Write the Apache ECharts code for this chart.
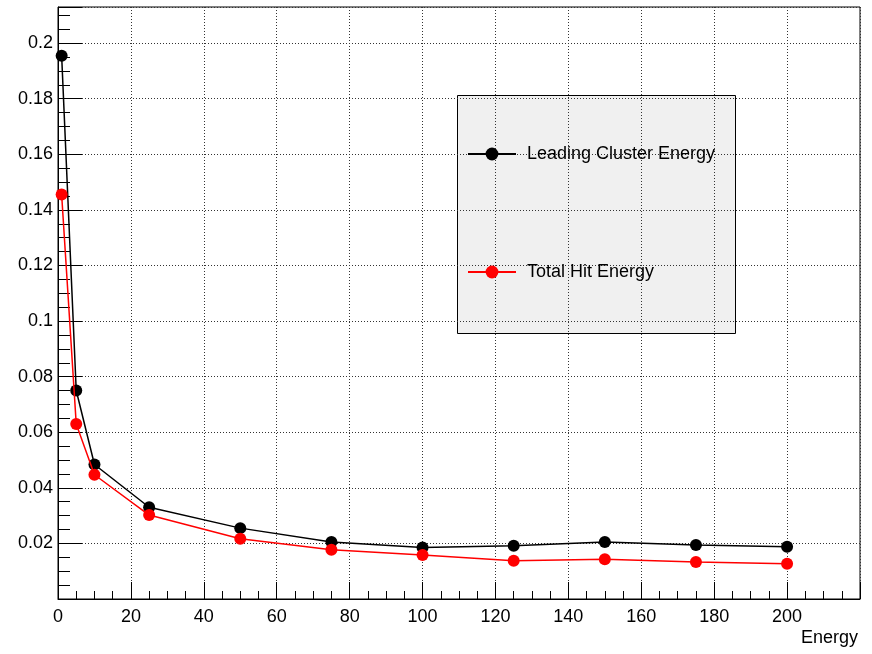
<!DOCTYPE html>
<html>
<head>
<meta charset="utf-8">
<style>
  html, body { margin: 0; padding: 0; background: #ffffff; }
  #chart { width: 872px; height: 654px; }
</style>
<script src="https://cdn.jsdelivr.net/npm/echarts@6/dist/echarts.min.js"></script>
</head>
<body>
<div id="chart"></div>
<script>
// Beam energies (x) and the resolution values for each method
const energies = [1, 5, 10, 25, 50, 75, 100, 125, 150, 175, 200];
const leadingCluster = [0.1955, 0.075, 0.0484, 0.033, 0.0255, 0.0205, 0.0185, 0.0192, 0.0205, 0.0194, 0.0188];
const totalHit = [0.1455, 0.063, 0.0447, 0.0302, 0.0217, 0.0177, 0.0158, 0.0138, 0.0143, 0.0133, 0.0127];
const seriesNames = ['Leading Cluster Energy', 'Total Hit Energy'];
const xTitle = 'Energy';

const pairs = (xs, ys) => xs.map((x, i) => [x, ys[i]]);
const FONT = '"Liberation Sans", Arial, Helvetica, sans-serif';

const chart = echarts.init(document.getElementById('chart'), null, { renderer: 'canvas' });

const dotted = { color: '#333', width: 1, type: [1, 2] };

chart.setOption({
  backgroundColor: '#ffffff',
  animation: false,
  grid: {
    left: 58, right: 12, top: 7, bottom: 55,
    show: true, borderColor: '#000', borderWidth: 1, backgroundColor: 'transparent'
  },
  xAxis: {
    type: 'value', min: 0, max: 220, interval: 20,
    axisLine: { show: true, onZero: false, lineStyle: { color: '#000', width: 1 } },
    axisTick: { show: true, inside: true, length: 17, lineStyle: { color: '#000' } },
    minorTick: { show: true, splitNumber: 4, length: 8, lineStyle: { color: '#000' } },
    splitLine: { show: true, lineStyle: dotted },
    axisLabel: { color: '#000', fontFamily: FONT, fontSize: 18, margin: 9, showMaxLabel: false }
  },
  yAxis: {
    type: 'value', min: 0, max: 0.213, interval: 0.02,
    axisLine: { show: true, onZero: false, lineStyle: { color: '#000', width: 1 } },
    axisTick: { show: true, inside: true, length: 24, lineStyle: { color: '#000' } },
    minorTick: { show: true, splitNumber: 4, length: 12, lineStyle: { color: '#000' } },
    splitLine: { show: true, lineStyle: dotted },
    axisLabel: {
      color: '#000', fontFamily: FONT, fontSize: 18, margin: 5,
      showMinLabel: false, showMaxLabel: false,
      formatter: v => String(parseFloat(v.toFixed(3)))
    }
  },
  legend: {
    orient: 'vertical', left: 467, top: 144, padding: 0,
    itemWidth: 48, itemHeight: 16, itemGap: 98,
    textStyle: { color: '#000', fontFamily: FONT, fontSize: 18, lineHeight: 20, padding: [0, 0, 0, 6] },
    data: seriesNames
  },
  graphic: [
    {
      type: 'rect', z: 0, silent: true,
      shape: { x: 457.5, y: 95.5, width: 278, height: 238 },
      style: { fill: '#f0f0f0', stroke: '#000', lineWidth: 1 }
    },
    {
      type: 'text', right: 14, top: 629,
      style: { text: xTitle, fill: '#000', font: '18px ' + FONT }
    }
  ],
  series: [
    {
      name: seriesNames[0], type: 'line', data: pairs(energies, leadingCluster),
      symbol: 'circle', symbolSize: 12, z: 3,
      itemStyle: { color: '#000' }, lineStyle: { color: '#000', width: 1.5 }
    },
    {
      name: seriesNames[1], type: 'line', data: pairs(energies, totalHit),
      symbol: 'circle', symbolSize: 12, z: 4,
      itemStyle: { color: '#ff0000' }, lineStyle: { color: '#ff0000', width: 1.5 }
    }
  ]
});
</script>
</body>
</html>
